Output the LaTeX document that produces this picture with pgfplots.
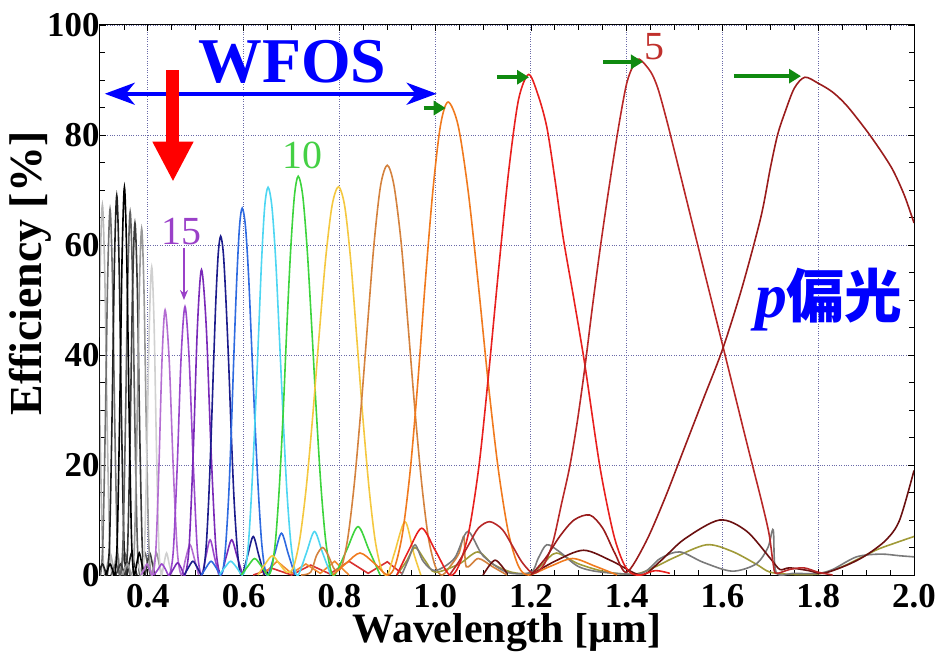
\documentclass[border=0pt]{standalone}
\usepackage{fontspec}
\setmainfont{Liberation Serif}
\newfontfamily\cjk{Noto Sans CJK JP}
\usepackage{pgfplots}
\pgfplotsset{compat=1.18}
\usetikzlibrary{arrows.meta}
\definecolor{c25}{HTML}{B0B0B0}
\definecolor{c24}{HTML}{B8B8B8}
\definecolor{c23}{HTML}{707070}
\definecolor{c22}{HTML}{202020}
\definecolor{c21}{HTML}{000000}
\definecolor{c20}{HTML}{606060}
\definecolor{c19}{HTML}{3A3A3A}
\definecolor{c18}{HTML}{999999}
\definecolor{c17}{HTML}{D0D0D0}
\definecolor{c16}{HTML}{B46ED2}
\definecolor{c15}{HTML}{9A48CC}
\definecolor{c14}{HTML}{7A2AB8}
\definecolor{c13}{HTML}{1C1C8C}
\definecolor{c12}{HTML}{2E6AE0}
\definecolor{c11}{HTML}{4ED6F2}
\definecolor{c10}{HTML}{3DD43D}
\definecolor{c9}{HTML}{F4C840}
\definecolor{c8}{HTML}{D4823E}
\definecolor{c7}{HTML}{F07A1E}
\definecolor{c6}{HTML}{E8201E}
\definecolor{c5}{HTML}{B82828}
\definecolor{c4}{HTML}{9A1C1C}
\definecolor{cmaroon}{HTML}{6A1010}
\definecolor{colive}{HTML}{A09A38}
\definecolor{cgray}{HTML}{7A7A7A}
\definecolor{cripr}{HTML}{D83030}
\definecolor{cripo}{HTML}{F08A30}
\definecolor{gridc}{HTML}{6A6AA8}
\definecolor{arrgreen}{HTML}{108A10}
\definecolor{txtgreen}{HTML}{44D044}
\definecolor{txtpurple}{HTML}{9A40C8}
\definecolor{txtred}{HTML}{C0302C}
\begin{document}
\begin{tikzpicture}
\begin{axis}[
  width=814bp, height=550bp, scale only axis,
  xmin=0.3, xmax=2.0, ymin=0, ymax=100,
  clip mode=individual,
  xtick={0.4,0.6,0.8,1.0,1.2,1.4,1.6,1.8,2.0},
  ytick={0,20,40,60,80,100},
  minor xtick={0.35,0.45,0.5,0.55,0.65,0.7,0.75,0.85,0.9,0.95,1.05,1.1,1.15,1.25,1.3,1.35,1.45,1.5,1.55,1.65,1.7,1.75,1.85,1.9,1.95},
  minor ytick={5,10,15,25,30,35,45,50,55,65,70,75,85,90,95},
  major tick length=6bp, minor tick length=5bp,
  tick align=inside, tick pos=both,
  tick style={black, line width=0.8bp},
  grid=major,
  major grid style={dotted, gridc, line width=0.9bp},
  axis line style={black, line width=1bp},
  /pgf/number format/assume math mode=true,
  ticklabel style={font=\fontsize{35}{35}\selectfont\bfseries},
  xticklabel style={/pgf/number format/.cd, fixed, fixed zerofill, precision=1, /tikz/.cd, inner sep=1bp, yshift=-8bp},
  yticklabel style={xshift=3bp},
  xlabel={Wavelength [µm]},
  ylabel={Efficiency [\%]},
  xlabel style={font=\fontsize{42}{42}\selectfont\bfseries, at={(axis description cs:0.5,-0.1236)}, anchor=base, inner sep=0pt},
  ylabel style={font=\fontsize{46}{46}\selectfont\bfseries, at={(axis description cs:-0.0713,0.548)}, anchor=base},
  every axis plot/.append style={line width=1.6bp, smooth},
]
\coordinate (SW) at (rel axis cs:0,0);
\coordinate (NE) at (rel axis cs:1,1);
% baseline ripples
\addplot[cripr, sharp plot] coordinates {(0.62,0) (0.66,1.2) (0.70,0) (0.74,1.8) (0.78,0.2) (0.82,2.5) (0.86,0.3) (0.90,2.4) (0.93,0.3)};
\addplot[cripo, sharp plot] coordinates {(0.64,0) (0.67,2.5) (0.70,0.3) (0.73,2) (0.76,0.3) (0.79,2.5) (0.82,0)};
% m=25
\addplot[c25] coordinates {(0.29,66) (0.295,53.5) (0.30,26.7) (0.305,5.9) (0.31,0) (0.3155,2) (0.321,4) (0.3265,2) (0.332,0)};
% m=24
\addplot[c24] coordinates {(0.285,0) (0.29,6.1) (0.295,27.3) (0.30,54.6) (0.305,67.3) (0.31,54.6) (0.315,27.3) (0.32,6.1) (0.325,0) (0.3305,2) (0.336,4) (0.3415,2) (0.347,0)};
% m=23
\addplot[c23] coordinates {(0.281,0) (0.286,1) (0.291,2) (0.296,1) (0.301,0) (0.306,6) (0.311,26.9) (0.316,53.9) (0.321,66.5) (0.326,53.9) (0.331,26.9) (0.336,6) (0.341,0) (0.3465,2) (0.352,4) (0.3575,2) (0.363,0)};
% m=22
\addplot[c22] coordinates {(0.295,0) (0.30,1) (0.305,2) (0.31,1) (0.315,0) (0.32,6.2) (0.325,27.9) (0.33,56) (0.335,69) (0.34,56) (0.345,27.9) (0.35,6.2) (0.355,0) (0.3605,2) (0.366,4) (0.3715,2) (0.377,0)};
% m=20
\addplot[c20] coordinates {(0.323,0) (0.328,1) (0.333,2) (0.338,1) (0.343,0) (0.348,5.9) (0.353,26.7) (0.358,53.5) (0.363,66) (0.368,53.5) (0.373,26.7) (0.378,5.9) (0.383,0) (0.3885,2) (0.394,4) (0.3995,2) (0.405,0)};
% m=19
\addplot[c19] coordinates {(0.333,0) (0.338,1) (0.343,2) (0.348,1) (0.353,0) (0.358,5.8) (0.363,25.9) (0.368,51.9) (0.373,64) (0.378,51.9) (0.383,25.9) (0.388,5.8) (0.393,0) (0.3985,2) (0.404,4) (0.4095,2) (0.415,0)};
% m=18
\addplot[c18] coordinates {(0.347,0) (0.352,1) (0.357,2) (0.362,1) (0.367,0) (0.372,5.7) (0.377,25.5) (0.382,51.1) (0.387,63) (0.392,51.1) (0.397,25.5) (0.402,5.7) (0.407,0) (0.4125,2) (0.418,4) (0.4235,2) (0.429,0)};
% m=17
\addplot[c17] coordinates {(0.368,0) (0.373,1) (0.378,2) (0.383,1) (0.388,0) (0.393,5) (0.398,22.7) (0.403,45.4) (0.408,56) (0.413,45.4) (0.418,22.7) (0.423,5) (0.428,0) (0.4335,2) (0.439,4) (0.4445,2) (0.45,0)};
% m=21
\addplot[c21] coordinates {(0.311,0) (0.316,1) (0.321,2) (0.326,1) (0.331,0) (0.336,6.3) (0.341,28.6) (0.346,57.2) (0.351,70.5) (0.356,57.2) (0.361,28.6) (0.366,6.3) (0.371,0) (0.3765,2) (0.382,4) (0.3875,2) (0.393,0)};
% m=16
\addplot[c16] coordinates {(0.386,0) (0.392,1) (0.398,2) (0.404,1) (0.41,0) (0.4165,4.3) (0.423,19.5) (0.4295,39.1) (0.436,48.2) (0.4445,39.1) (0.453,19.5) (0.4615,4.3) (0.47,0) (0.479,3) (0.488,5.5) (0.497,3) (0.506,0)};
% m=15
\addplot[c15] coordinates {(0.413,0) (0.421,1) (0.429,2) (0.437,1) (0.445,0) (0.4531,4.4) (0.4613,19.8) (0.4694,39.6) (0.4775,48.8) (0.486,39.6) (0.495,19.8) (0.5034,4.4) (0.512,0) (0.521,3.3) (0.53,6.4) (0.539,3.3) (0.548,0)};
% m=14
\addplot[c14] coordinates {(0.446,0) (0.454,1.2) (0.462,2.2) (0.47,1.2) (0.4775,0) (0.486,5) (0.4948,22.5) (0.5034,45) (0.512,55.5) (0.522,45) (0.532,22.5) (0.542,5) (0.552,0) (0.5635,3.3) (0.575,6.4) (0.5865,3.3) (0.598,0)};
% m=13
\addplot[c13] coordinates {(0.476,0) (0.485,1.4) (0.494,2.5) (0.503,1.4) (0.512,0) (0.517,1.2) (0.522,5.5) (0.527,13.7) (0.532,24.9) (0.537,37.9) (0.542,50) (0.547,58.5) (0.552,61.6) (0.5576,58.5) (0.563,50) (0.569,37.9) (0.5745,24.9) (0.58,13.7) (0.586,5.5) (0.591,1.2) (0.597,0) (0.6085,3.6) (0.62,7) (0.6315,3.6) (0.643,0)};
% m=12
\addplot[c12] coordinates {(0.512,0) (0.522,1.4) (0.532,2.5) (0.542,1.4) (0.552,0) (0.5576,1.3) (0.563,6) (0.569,14.8) (0.5745,27) (0.58,41) (0.5858,54.1) (0.5914,63.4) (0.597,66.7) (0.6038,63.4) (0.6105,54.1) (0.617,41) (0.624,27) (0.631,14.8) (0.6375,6) (0.644,1.3) (0.651,0) (0.665,3.9) (0.679,7.6) (0.693,3.9) (0.707,0)};
% m=11
\addplot[c11] coordinates {(0.549,0) (0.561,1.4) (0.573,2.5) (0.585,1.4) (0.597,0) (0.604,1.3) (0.6105,6.3) (0.617,15.7) (0.624,28.6) (0.631,43.4) (0.6375,57.2) (0.644,67) (0.651,70.5) (0.659,67) (0.667,57.2) (0.6746,43.4) (0.6825,28.6) (0.69,15.7) (0.698,6.3) (0.706,1.3) (0.714,0) (0.731,4) (0.748,7.9) (0.765,4) (0.782,0)};
% m=10
\addplot[c10] coordinates {(0.595,0) (0.609,1.6) (0.623,3) (0.637,1.6) (0.651,0) (0.659,1.4) (0.6668,6.5) (0.6746,16.1) (0.6825,29.4) (0.690,44.6) (0.698,58.8) (0.706,68.9) (0.714,72.5) (0.7235,68.9) (0.733,58.8) (0.7425,44.6) (0.752,29.4) (0.7615,16.1) (0.771,6.5) (0.7805,1.4) (0.79,0) (0.815,4.5) (0.839,8.8) (0.862,4.5) (0.885,0)};
% m=9
\addplot[c9] coordinates {(0.63,0) (0.645,2) (0.66,3.5) (0.675,2) (0.69,0.5) (0.7035,1.3) (0.717,6.4) (0.7305,15.7) (0.744,28.6) (0.7575,43.4) (0.771,57.3) (0.7845,67.1) (0.798,70.6) (0.811,67.1) (0.8235,57.3) (0.836,43.4) (0.849,28.6) (0.862,15.7) (0.8745,6.4) (0.887,1.3) (0.90,0) (0.915,4) (0.937,9.7) (0.955,4) (0.97,0)};
% m=8
\addplot[c8] coordinates {(0.72,0) (0.74,0.5) (0.752,3.5) (0.765,5) (0.777,3.5) (0.79,1) (0.804,1.4) (0.8175,6.7) (0.831,16.5) (0.845,30.2) (0.859,45.8) (0.8725,60.4) (0.886,70.8) (0.900,74.5) (0.914,70.8) (0.929,60.4) (0.943,45.8) (0.9575,30.2) (0.972,16.5) (0.986,6.7) (1.001,1.4) (1.015,0) (1.035,2) (1.05,4) (1.06,7) (1.065,1.5) (1.09,3) (1.12,1.5) (1.15,0)};
% small curves
\addplot[colive] coordinates {(0.92,0) (0.94,2.5) (0.958,5) (0.98,2.5) (1.0,0.5) (1.05,2) (1.089,4.2) (1.12,2) (1.16,0.5) (1.2,0.3) (1.225,2) (1.253,4) (1.3,2) (1.36,0.5) (1.42,0.2) (1.46,1.5) (1.5,3.2) (1.567,5.5) (1.62,4.3) (1.67,2) (1.70,0.5) (1.75,0.1) (1.8,0.2) (1.85,1.5) (1.92,4.5) (1.96,5.8) (2.0,7)};
\addplot[cgray] coordinates {(0.93,0) (0.945,3) (0.958,5.5) (0.975,2.5) (1.0,0.8) (1.04,3) (1.068,7.9) (1.1,3.5) (1.15,0.5) (1.2,0.5) (1.215,3) (1.233,5.5) (1.26,4.2) (1.3,1.5) (1.35,0.5) (1.43,0.3) (1.47,3) (1.511,4.2) (1.56,2.3) (1.62,0.7) (1.67,2) (1.695,5) (1.706,8.2) (1.712,0.5) (1.75,0.3) (1.8,0.3) (1.83,1) (1.88,3.3) (1.93,3.8) (1.97,3.5) (2.0,3.3)};
\addplot[cmaroon] coordinates {(1.10,0) (1.125,2.7) (1.15,0.3)};
\addplot[cmaroon] coordinates {(1.20,0) (1.25,2.5) (1.31,4.5) (1.37,2.5) (1.43,0) (1.47,2.5) (1.52,6.5) (1.594,10) (1.65,8) (1.70,3) (1.72,1) (1.74,1.3) (1.78,0.8) (1.81,0.3) (1.86,1.8) (1.9,3.6) (1.942,6.4) (1.97,10) (2.0,19)};
% m=7
\addplot[c7] coordinates {(0.786,0) (0.815,2.2) (0.843,4) (0.872,2.2) (0.90,0) (0.916,1.6) (0.932,7.7) (0.948,19.1) (0.9635,34.8) (0.979,52.9) (0.995,69.7) (1.011,81.7) (1.027,86) (1.048,81.7) (1.069,69.7) (1.090,52.9) (1.111,34.8) (1.132,19.1) (1.153,7.7) (1.174,1.6) (1.195,0) (1.241,1.6) (1.287,3) (1.334,1.6) (1.38,0)};
% m=6
\addplot[c6] coordinates {(0.92,0) (0.945,4.5) (0.972,8.5) (1.0,4.5) (1.03,0) (1.05,1.8) (1.071,8.2) (1.092,20.2) (1.112,36.9) (1.133,56) (1.154,73.8) (1.174,86.4) (1.195,91) (1.214,87.5) (1.233,81.5) (1.25,72) (1.267,61.5) (1.29,50) (1.313,38) (1.344,19.7) (1.372,7.6) (1.393,2.2) (1.41,0.3) (1.43,0) (1.46,0.8) (1.49,0.3)};
% m=5
\addplot[c5] coordinates {(1.03,0) (1.05,2.5) (1.07,5.5) (1.09,8.5) (1.114,9.7) (1.14,8.3) (1.16,5.5) (1.18,2.5) (1.20,0.5) (1.212,0.5) (1.228,2) (1.246,6) (1.264,13) (1.281,19.7) (1.297,28) (1.313,38) (1.328,48.5) (1.344,59) (1.358,67.5) (1.372,75.5) (1.386,83) (1.40,89.4) (1.413,92.5) (1.426,93.8) (1.45,91.5) (1.465,88.5) (1.4817,83.3) (1.50,77) (1.55,59.4) (1.60,41.9) (1.65,24.3) (1.68,14) (1.697,7.6) (1.706,2) (1.712,0.3) (1.74,1) (1.77,1.3) (1.80,0.5) (1.83,0)};
% m=4
\addplot[c4] coordinates {(1.20,0) (1.23,3) (1.26,7) (1.29,10) (1.323,10.9) (1.35,8.5) (1.375,4) (1.40,0.5) (1.44,6) (1.48,14) (1.52,23) (1.56,32) (1.60,41) (1.64,52) (1.68,65) (1.70,74) (1.715,80) (1.73,84) (1.75,88.5) (1.772,90.5) (1.80,89.4) (1.83,87.8) (1.86,85.3) (1.9,80.9) (1.93,77.2) (1.956,73.6) (1.98,69) (2.0,64)};
% annotations
\draw[blue, line width=4bp, {Stealth[length=30bp,width=22bp,inset=9bp]}-{Stealth[length=30bp,width=22bp,inset=9bp]}] (axis cs:0.31,87.5) -- (axis cs:1.003,87.5);
\draw[red, line width=13bp, -{Triangle[length=40bp,width=38bp]}] (axis cs:0.4524,91.8) -- (axis cs:0.4524,71.5);
\draw[txtpurple, line width=2bp, -{Stealth[length=10bp,width=8bp]}] (axis cs:0.4754,59.5) -- (axis cs:0.4754,50);
\draw[arrgreen, line width=4bp, -{Triangle[length=12bp,width=14bp]}] (axis cs:0.976,84.9) -- (axis cs:1.022,84.9);
\draw[arrgreen, line width=4bp, -{Triangle[length=12bp,width=14bp]}] (axis cs:1.129,90.5) -- (axis cs:1.196,90.5);
\draw[arrgreen, line width=4bp, -{Triangle[length=12bp,width=14bp]}] (axis cs:1.351,93.3) -- (axis cs:1.434,93.3);
\draw[arrgreen, line width=4bp, -{Triangle[length=12bp,width=14bp]}] (axis cs:1.624,90.7) -- (axis cs:1.764,90.7);
\node[blue, font=\fontsize{64}{64}\selectfont\bfseries, inner sep=0pt] at (axis cs:0.702,93.3) {WFOS};
\node[txtgreen, font=\fontsize{40}{40}\selectfont, inner sep=0pt] at (axis cs:0.722,76.2) {10};
\node[txtpurple, font=\fontsize{40}{40}\selectfont, inner sep=0pt] at (axis cs:0.471,62.4) {15};
\node[txtred, font=\fontsize{40}{40}\selectfont, inner sep=0pt] at (axis cs:1.459,96) {5};
\node[blue, inner sep=0pt] at (axis cs:1.822,50) {{\fontsize{64}{64}\selectfont\bfseries\itshape p}{\cjk\fontsize{58}{58}\selectfont\bfseries 偏光}};
\end{axis}
\pgfresetboundingbox
\path ([shift={(-100bp,-77bp)}]SW) rectangle ([shift={(32bp,25bp)}]NE);
\end{tikzpicture}
\end{document}
